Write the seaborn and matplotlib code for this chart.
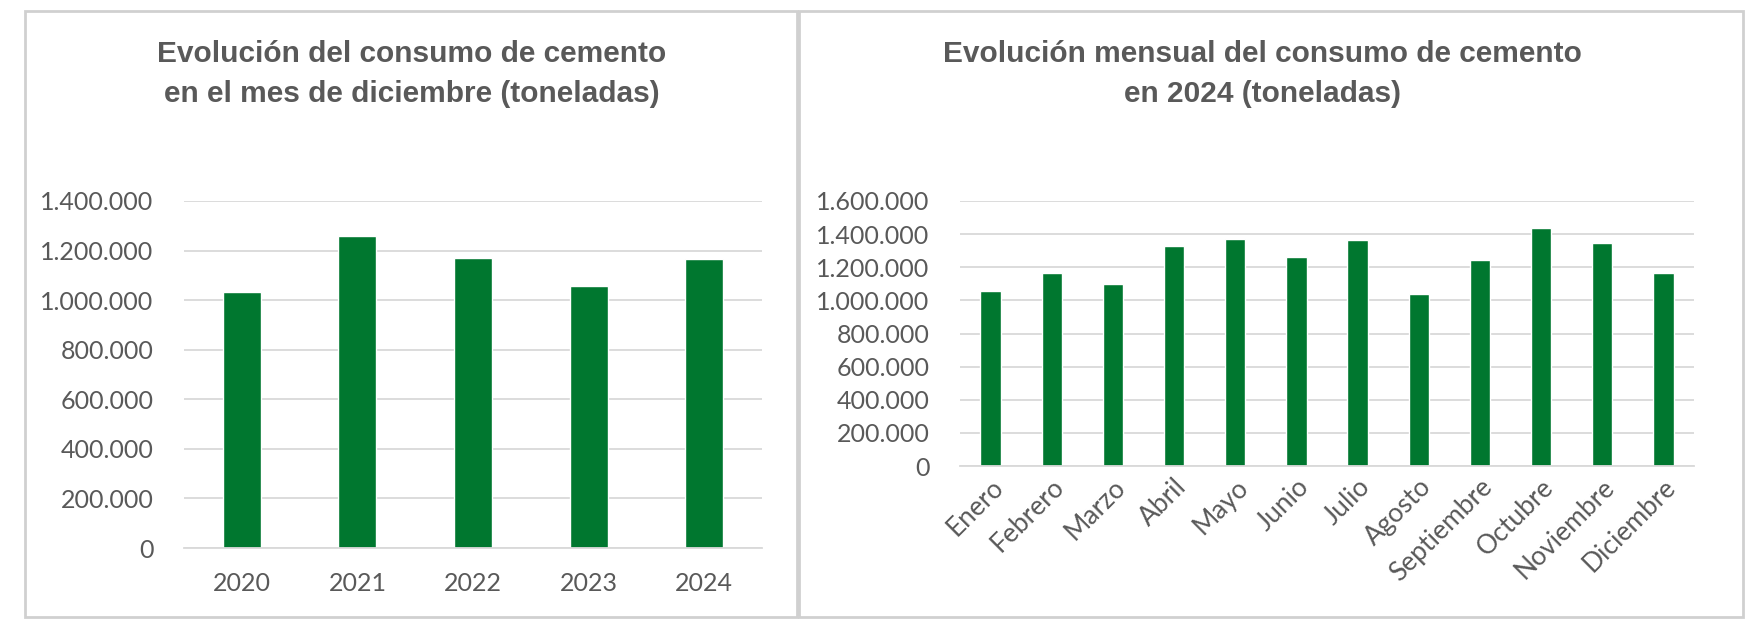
import matplotlib
matplotlib.use("Agg")
import matplotlib.pyplot as plt
import seaborn as sns
import pandas as pd
from matplotlib.ticker import FuncFormatter, FixedLocator
from matplotlib.patches import Rectangle

# data
years = ["2020", "2021", "2022", "2023", "2024"]
dec_tons = [1031000, 1259000, 1170000, 1056000, 1168000]

months = ["Enero", "Febrero", "Marzo", "Abril", "Mayo", "Junio", "Julio",
          "Agosto", "Septiembre", "Octubre", "Noviembre", "Diciembre"]
month_tons = [1057000, 1164000, 1101000, 1326000, 1373000, 1264000, 1362000,
              1038000, 1246000, 1435000, 1344000, 1168000]

left_title = "Evolución del consumo de cemento\nen el mes de diciembre (toneladas)"
right_title = "Evolución mensual del consumo de cemento\nen 2024 (toneladas)"

GREEN = "#00772F"
GRAY_TXT = "#595959"
GRID = "#d9d9d9"

sns.set_style("white")
plt.rcParams["font.family"] = ["Lato", "DejaVu Sans"]

W, H = 1750, 630
fig = plt.figure(figsize=(W / 100, H / 100), dpi=100)

# panel frames
for x0, x1 in [(25, 797), (799, 1743)]:
    fig.patches.append(Rectangle((x0 / W, (H - 617) / H), (x1 - x0) / W, (617 - 11) / H,
                                 transform=fig.transFigure, fill=False,
                                 edgecolor="#d0d0d0", linewidth=2))

fmt = FuncFormatter(lambda v, p: f"{int(v):,}".replace(",", "."))


def style_axes(ax, n, ymax, step):
    ax.set_ylim(0, ymax)
    ax.set_xlim(-0.5, n - 0.5)
    ax.set_yticks(range(0, ymax + 1, step))
    ax.yaxis.set_major_formatter(fmt)
    ax.grid(axis="y", color=GRID, linewidth=1.3)
    ax.set_axisbelow(True)
    for s in ["top", "right", "left"]:
        ax.spines[s].set_visible(False)
    ax.spines["bottom"].set_color(GRID)
    ax.spines["bottom"].set_linewidth(1.3)
    ax.xaxis.set_minor_locator(FixedLocator([i - 0.5 for i in range(n + 1)]))
    ax.tick_params(axis="x", which="minor", length=7, color=GRID, width=1.3)
    ax.tick_params(axis="x", which="major", length=0, pad=17)
    ax.tick_params(axis="y", length=0, pad=22)
    ax.tick_params(labelsize=18, labelcolor=GRAY_TXT)
    ax.set_xlabel("")
    ax.set_ylabel("")


# left chart
ax1 = fig.add_axes([184 / W, (H - 548) / H, 578 / W, 347 / H])
df1 = pd.DataFrame({"anio": years, "t": dec_tons})
sns.barplot(data=df1, x="anio", y="t", color=GREEN, width=0.33, saturation=1, ax=ax1)
style_axes(ax1, len(years), 1400000, 200000)

# right chart
ax2 = fig.add_axes([960 / W, (H - 466) / H, 734 / W, 265 / H])
df2 = pd.DataFrame({"mes": months, "t": month_tons})
sns.barplot(data=df2, x="mes", y="t", color=GREEN, width=0.33, saturation=1, ax=ax2)
style_axes(ax2, len(months), 1600000, 200000)
ax2.tick_params(axis="x", which="major", pad=6, labelsize=19)
for lab in ax2.get_xticklabels():
    lab.set_rotation(45)
    lab.set_ha("right")
    lab.set_rotation_mode("anchor")

for x, t in [(412, left_title), (1262, right_title)]:
    fig.text(x / W, 1 - 74 / H, t, ha="center", va="center", fontsize=21.5,
             fontweight="bold", color=GRAY_TXT, linespacing=1.5,
             family=["Liberation Sans", "DejaVu Sans"])

fig.savefig("out.png", dpi=100, facecolor="white")
